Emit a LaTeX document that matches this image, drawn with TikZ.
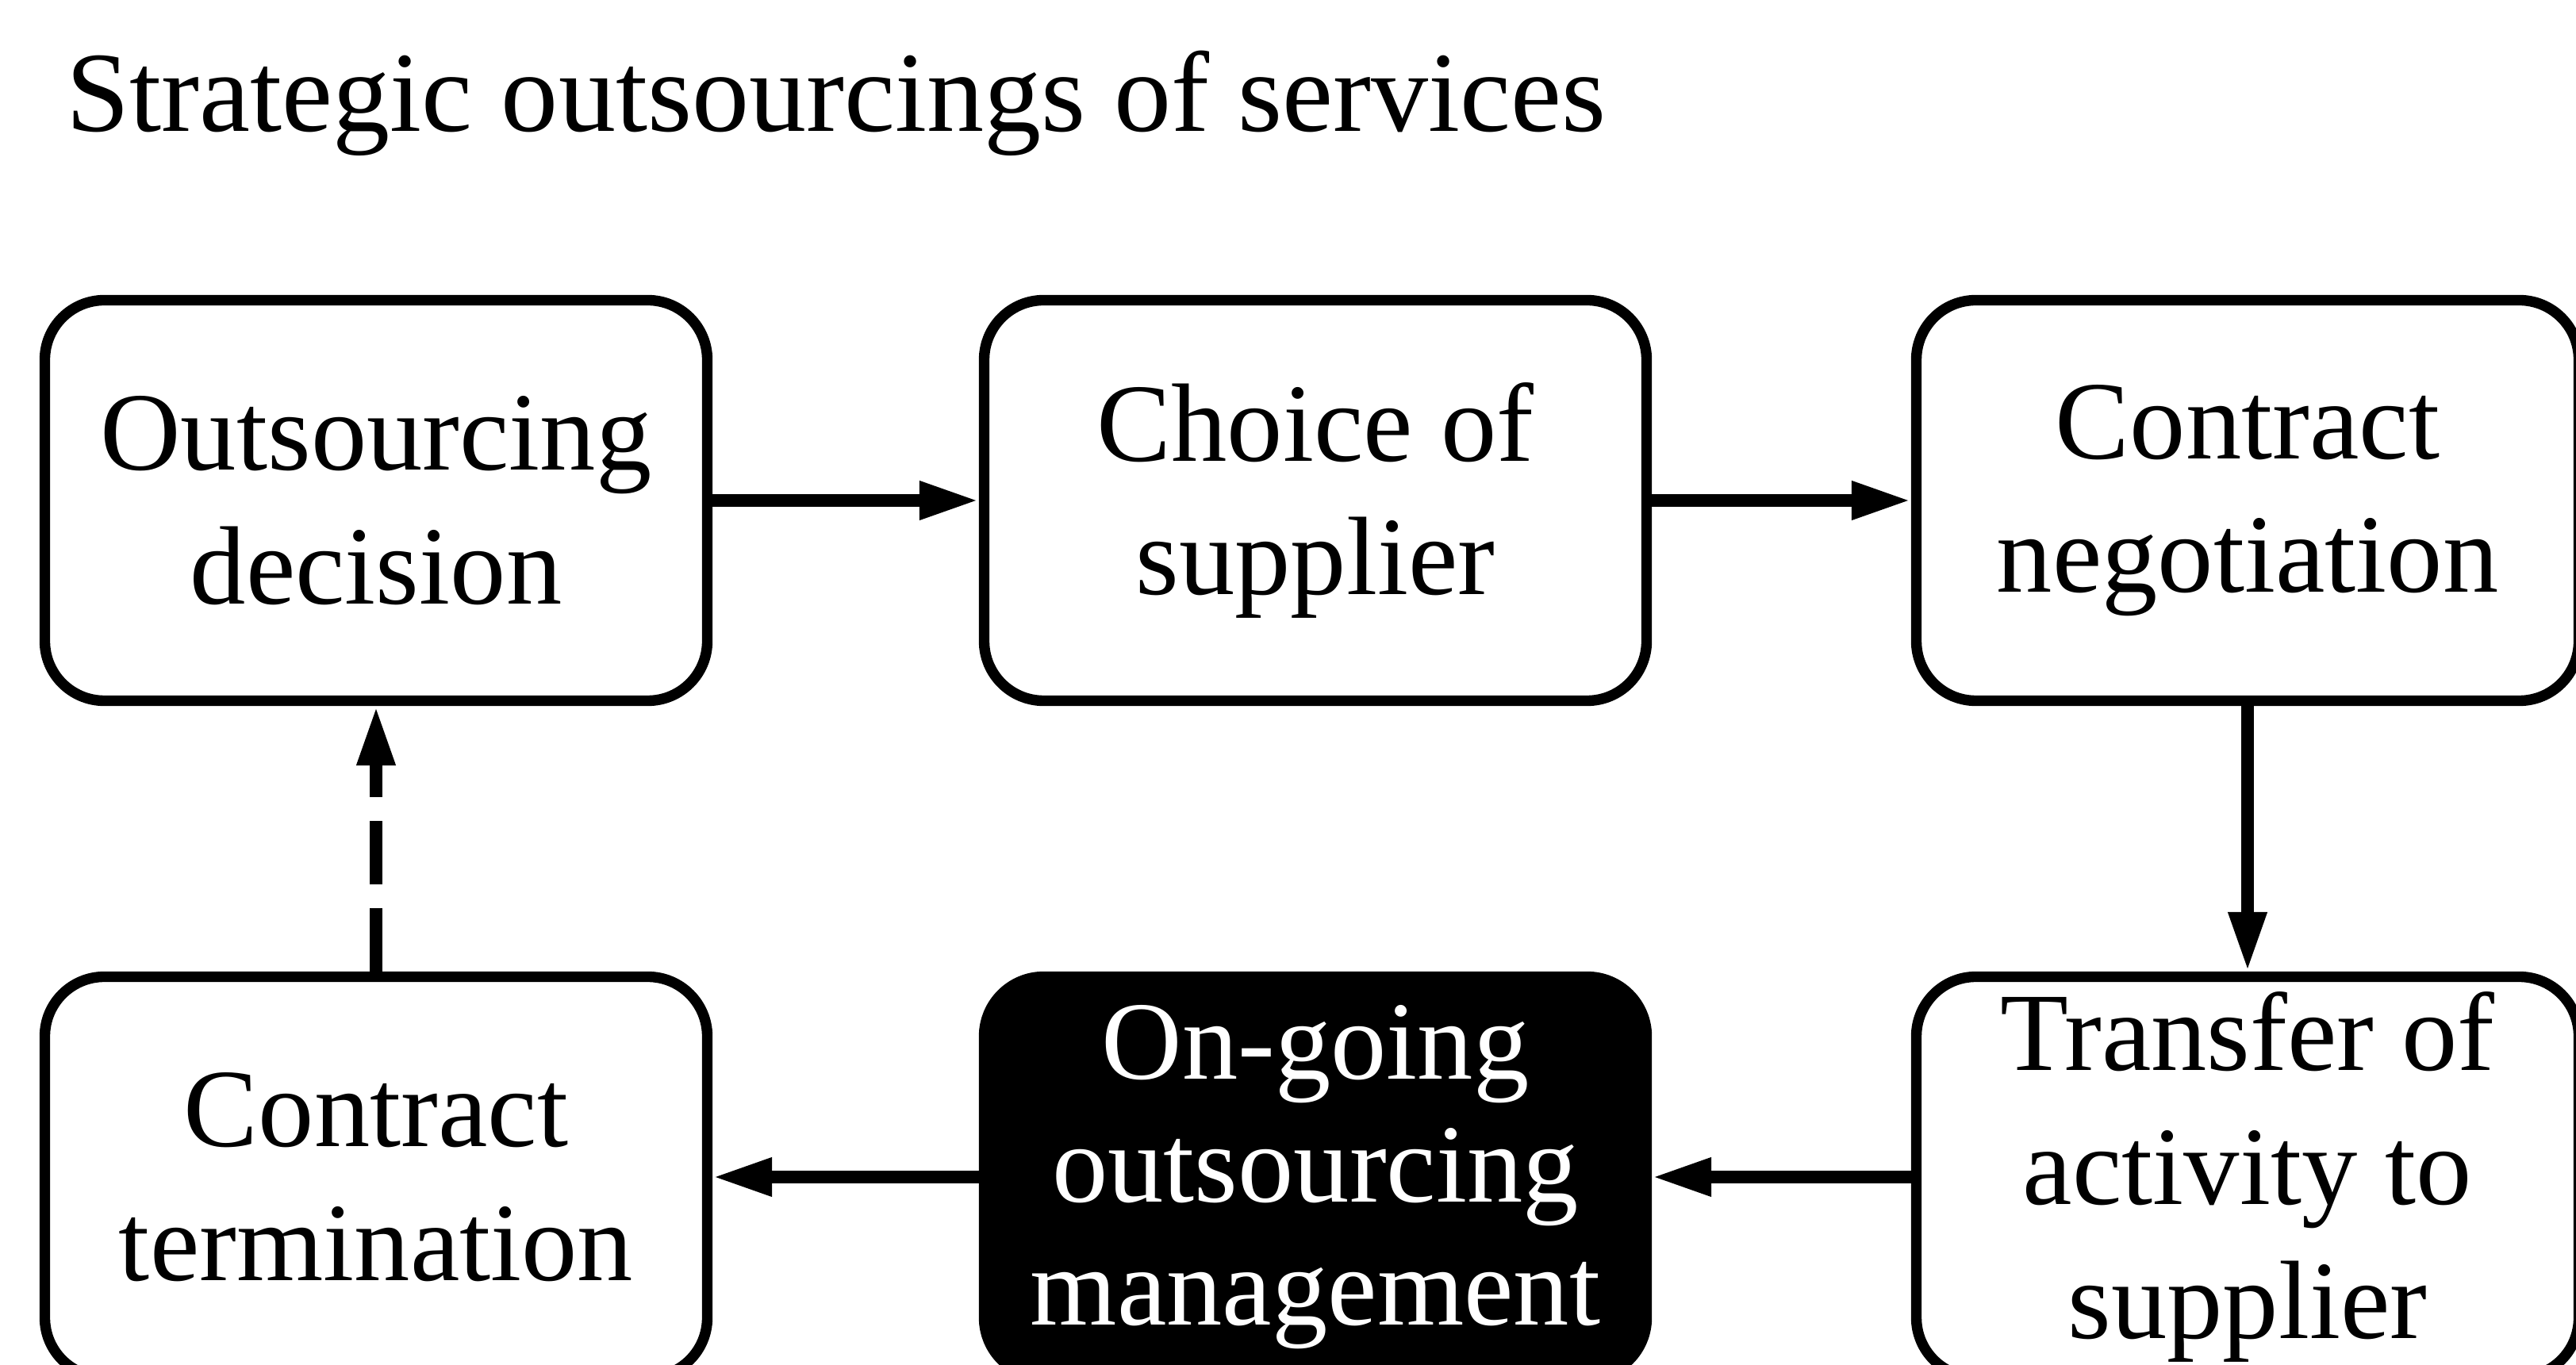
\documentclass[tikz,border=0pt]{standalone}
\usepackage{fontspec}
\setmainfont{Liberation Serif}
\usetikzlibrary{shapes, positioning, arrows.meta}

\tikzset{
  stage/.style={draw, rectangle, rounded corners=0.75cm, line width=3.8pt,
    minimum width=8.35cm, minimum height=5.05cm, align=center,
    font=\fontsize{40}{48}\selectfont},
  current/.style={stage, fill=black, text=white, font=\fontsize{40}{44}\selectfont},
  flow/.style={->, line width=4.5pt},
}

\begin{document}
\begin{tikzpicture}[>={Triangle[length=0.75cm, width=0.45cm]}]
        \useasboundingbox (0,0) rectangle (32.47,17.2);
        \node[anchor=base west, inner sep=0pt, font=\fontsize{41}{48}\selectfont] (title) at (0.83, 15.54) {Strategic outsourcings of services};

        \node[stage] (dec) at (4.74, 10.89) {Outsourcing\\decision};
        \node[stage] (sup) at (16.58, 10.89) {Choice of\\supplier};
        \node[stage] (neg) at (28.33, 10.89) {Contract\\negotiation};
        \node[stage] (trf) at (28.33, 2.36) {Transfer of\\activity to\\supplier};
        \node[current] (mgt) at (16.58, 2.36) {On-going\\outsourcing\\management};
        \node[stage] (ter) at (4.74, 2.36) {Contract\\termination};

        \draw[flow] (dec) -- (sup);
        \draw[flow] (sup) -- (neg);
        \draw[flow] (neg) -- (trf);
        \draw[flow] (trf) -- (mgt);
        \draw[flow] (mgt) -- (ter);
        % way back after termination
        \draw[flow, dash pattern=on 0.8cm off 0.3cm] (ter) -- (dec);
    \end{tikzpicture}
\end{document}
